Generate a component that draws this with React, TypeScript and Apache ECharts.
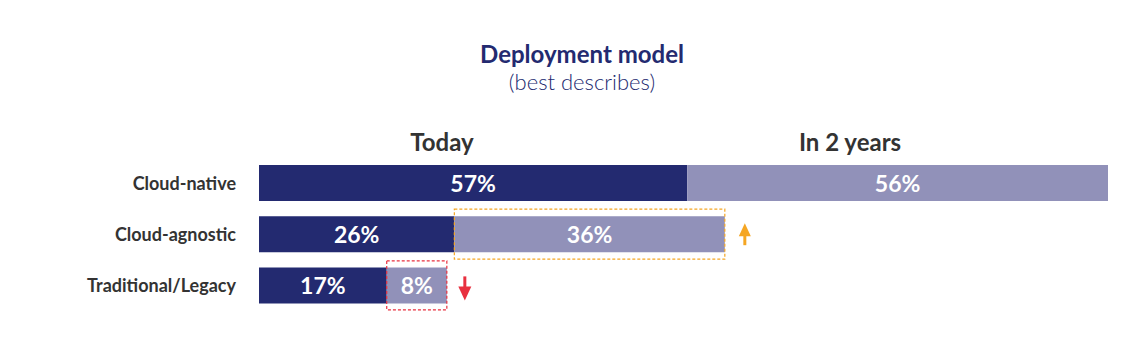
import React, { useEffect, useRef } from "react";
import * as echarts from "echarts";

const categories = ["Cloud-native", "Cloud-agnostic", "Traditional/Legacy"];
const todayValues = [57, 26, 17];
const in2YearsValues = [56, 36, 8];
const columnHeaders = ["Today", "In 2 years"];
// highlighted changes: row index, direction
const highlightRows = [1, 2];
const highlightDirs = ["up", "down"];

const NAVY = "#232a70";
const LIGHT = "#9191b9";
const ORANGE = "#f5a623";
const RED = "#e8303f";

export default function App() {
  const ref = useRef<HTMLDivElement>(null);
  useEffect(() => {
    if (!ref.current) return;
    const chart = echarts.init(ref.current, undefined, { renderer: "svg" });
    const boxData = highlightRows.map((r, i) => [
      todayValues[r],
      todayValues[r] + in2YearsValues[r],
      r,
      highlightDirs[i] === "up" ? 1 : -1,
    ]);
    const font = "Lato, 'Noto Sans', sans-serif";
    chart.setOption({
      animation: false,
      title: {
        text: "Deployment model",
        subtext: "(best describes)",
        left: 577,
        textAlign: "center",
        top: 36,
        itemGap: 5,
        textStyle: { fontFamily: font, fontSize: 24, fontWeight: "bold", color: NAVY },
        subtextStyle: { fontFamily: font, fontSize: 22, fontWeight: 300, color: NAVY },
      },
      graphic: [
        {
          type: "text",
          x: 442,
          y: 141,
          style: { text: columnHeaders[0], fontFamily: font, fontSize: 24, fontWeight: "bold", fill: "#333", align: "center", verticalAlign: "middle" },
        },
        {
          type: "text",
          x: 850,
          y: 141,
          style: { text: columnHeaders[1], fontFamily: font, fontSize: 24, fontWeight: "bold", fill: "#333", align: "center", verticalAlign: "middle" },
        },
      ],
      grid: { left: 259, right: 36, top: 157.4, bottom: 35, containLabel: false },
      xAxis: { type: "value", min: 0, max: 113, show: false },
      yAxis: {
        type: "category",
        data: categories,
        inverse: true,
        axisLine: { show: false },
        axisTick: { show: false },
        axisLabel: { margin: 23, fontFamily: font, fontSize: 18, fontWeight: "bold", color: "#333" },
      },
      series: [
        {
          type: "bar",
          stack: "s",
          data: todayValues,
          barWidth: 36,
          itemStyle: { color: NAVY },
          label: { show: true, position: "inside", formatter: "{c}%", fontFamily: font, fontSize: 23, fontWeight: "bold", color: "#fff" },
        },
        {
          type: "bar",
          stack: "s",
          data: in2YearsValues,
          barWidth: 36,
          itemStyle: { color: LIGHT },
          label: { show: true, position: "inside", formatter: "{c}%", fontFamily: font, fontSize: 23, fontWeight: "bold", color: "#fff" },
        },
        {
          type: "custom",
          data: boxData,
          encode: { x: [0, 1], y: 2 },
          z: 5,
          renderItem: (params: any, api: any) => {
            const s = api.value(0);
            const e = api.value(1);
            const row = api.value(2);
            const dir = api.value(3);
            const p0 = api.coord([s, row]);
            const p1 = api.coord([e, row]);
            const color = dir > 0 ? ORANGE : RED;
            const half = dir > 0 ? 25 : 24.5;
            const ax = p1[0] + (dir > 0 ? 20 : 18);
            const cy = p0[1];
            const arrow =
              dir > 0
                ? [
                    { type: "line", shape: { x1: ax, y1: cy - 2, x2: ax, y2: cy + 11 }, style: { stroke: color, lineWidth: 3 } },
                    { type: "polygon", shape: { points: [[ax, cy - 11], [ax - 6, cy + 2], [ax + 6, cy + 2]] }, style: { fill: color } },
                  ]
                : [
                    { type: "line", shape: { x1: ax, y1: cy - 9, x2: ax, y2: cy + 3 }, style: { stroke: color, lineWidth: 3 } },
                    { type: "polygon", shape: { points: [[ax, cy + 15], [ax - 6.5, cy + 1], [ax + 6.5, cy + 1]] }, style: { fill: color } },
                  ];
            return {
              type: "group",
              children: [
                {
                  type: "rect",
                  shape: { x: p0[0], y: cy - half, width: p1[0] - p0[0], height: half * 2 },
                  style: { fill: "none", stroke: color, lineWidth: 1.2, lineDash: [3, 2] },
                },
                ...arrow,
              ],
            };
          },
        },
      ],
    });
    return () => chart.dispose();
  }, []);
  return (
    <div
      ref={ref}
      style={{ position: "absolute", left: 0, top: 0, width: 1144, height: 346, background: "#fff" }}
    />
  );
}
